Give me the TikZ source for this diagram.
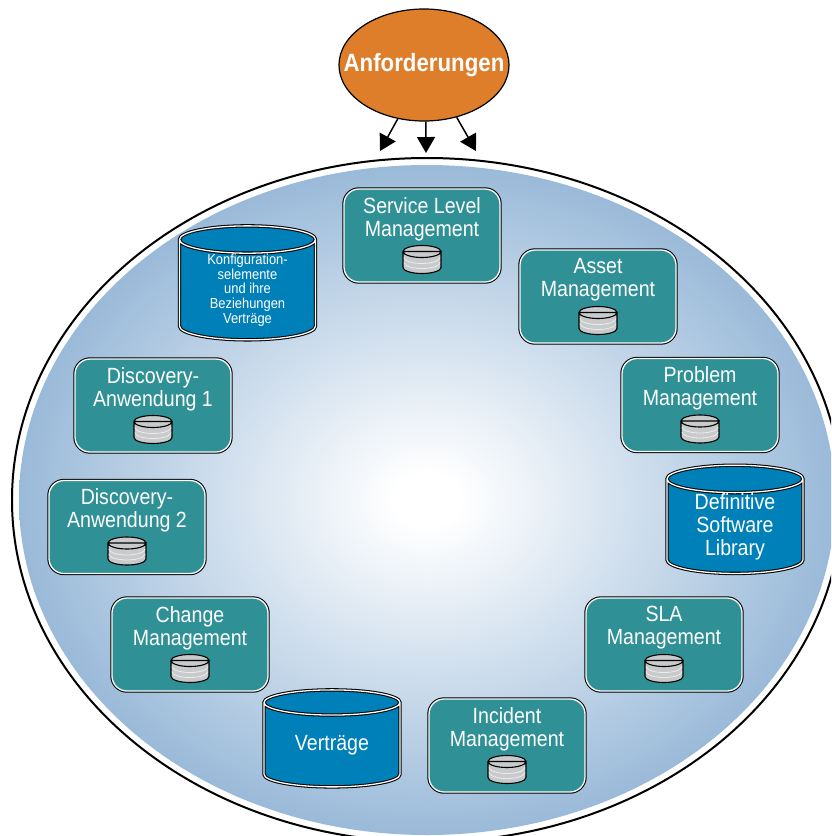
\documentclass[tikz,border=0pt]{standalone}
\usepackage{fontspec}
\setmainfont{Liberation Sans}[FakeStretch=0.89]
\usetikzlibrary{positioning}
\usetikzlibrary{shapes.geometric}
\usetikzlibrary{arrows.meta}
\definecolor{tealbox}{HTML}{2F9096}
\definecolor{bluecyl}{HTML}{0080B8}
\definecolor{orangereq}{HTML}{DE7D2A}
\definecolor{grayicon}{HTML}{C8CACC}
\definecolor{ringblue}{HTML}{9ABAD9}
\pgfdeclareradialshading{ringshade}{\pgfpoint{0bp}{0bp}}{color(0bp)=(white); color(2bp)=(white); color(25bp)=(ringblue); color(50bp)=(ringblue)}
\tikzset{>={Triangle[length=16pt,width=18pt]}}
\tikzset{mgmt/.style={rounded corners=15pt,minimum width=156pt,minimum height=93pt,inner sep=0pt,
  fill=tealbox,draw=white,line width=1.3pt,preaction={draw=black,line width=3.4pt}}}
\tikzset{boxtext/.style={text=white,align=center,inner sep=0pt,font=\fontsize{22}{23}\selectfont}}
\tikzset{cyl/.style={cylinder,shape border rotate=90,shape aspect=0.34,minimum width=136pt,minimum height=97pt,
  inner sep=0pt,cylinder uses custom fill,cylinder body fill=bluecyl,cylinder end fill=bluecyl,
  draw=white,line width=1.3pt,preaction={draw=black,line width=3.4pt},text=white,align=center,
  font=\fontsize{22}{23}\selectfont}}
\tikzset{dbicon/.pic={
  \draw[fill=grayicon,line width=1.1pt] (-19,8) -- (-19,-8) arc[start angle=180,end angle=360,x radius=19,y radius=6]
    -- (19,8) arc[start angle=0,end angle=360,x radius=19,y radius=6] -- cycle;
  \draw[white!85!gray,line width=0.8pt] (-18,2) arc[start angle=180,end angle=360,x radius=18,y radius=6];
  \draw[white!85!gray,line width=0.8pt] (-18,-3) arc[start angle=180,end angle=360,x radius=18,y radius=6];
}}
\newcommand{\mgmtbox}[3]{
  \node[mgmt] (#1) at (#2) {};
  \node[boxtext] (#1t) at ([yshift=16.5pt]#1.center) {#3};
  \pic at ([yshift=-24pt]#1.center) {dbicon};
}
\begin{document}
\begin{tikzpicture}[x=1pt,y=1pt]
  \clip (0,0) rectangle (831,-836);
  \fill[white] (0,0) rectangle (831,-836);

  % ring
  \node[ellipse,draw=black,line width=2pt,minimum width=830pt,minimum height=684pt,inner sep=0pt] (ring) at (427,-500) {};
  \shade[shading=ringshade] (ring.center) ellipse [x radius=408,y radius=335];

  % requirements
  \node[ellipse,draw=black,line width=1.2pt,fill=orangereq,minimum width=170pt,minimum height=112pt,inner sep=0pt] (req) at (424,-65) {};
  \node[text=white,inner sep=0pt,font=\fontsize{25}{25}\selectfont\bfseries] (reqt) at (req) {Anforderungen};
  \coordinate (a1) at (380,-151);
  \coordinate (a2) at (426,-153);
  \coordinate (a3) at (476,-151);
  \draw[->,line width=1.5pt] (req.244) -- (a1);
  \draw[->,line width=1.5pt] (req.272) -- (a2);
  \draw[->,line width=1.5pt] (req.302) -- (a3);

  % management boxes
  \mgmtbox{sl}{422,-235.5}{Service Level\\Management}
  \mgmtbox{asset}{598,-296.5}{Asset\\Management}
  \mgmtbox{problem}{700,-405}{Problem\\Management}
  \mgmtbox{sla}{664,-644.5}{SLA\\Management}
  \mgmtbox{incident}{507,-745.5}{Incident\\Management}
  \mgmtbox{change}{190,-644.5}{Change\\Management}
  \mgmtbox{disctwo}{127,-527}{Discovery-\\Anwendung 2}
  \mgmtbox{discone}{153,-405.5}{Discovery-\\Anwendung 1}

  % stores
  \node[cyl,font=\fontsize{14.5}{14.7}\selectfont] (ci) at (247.5,-290) {Konfiguration-\\selemente\\und ihre\\Beziehungen\\Verträge};
  \node[cyl] (dsl) at (735,-526.5) {Definitive\\Software\\Library};
  \node[cyl] (vertraege) at (332,-745) {Verträge};
\end{tikzpicture}
\end{document}
